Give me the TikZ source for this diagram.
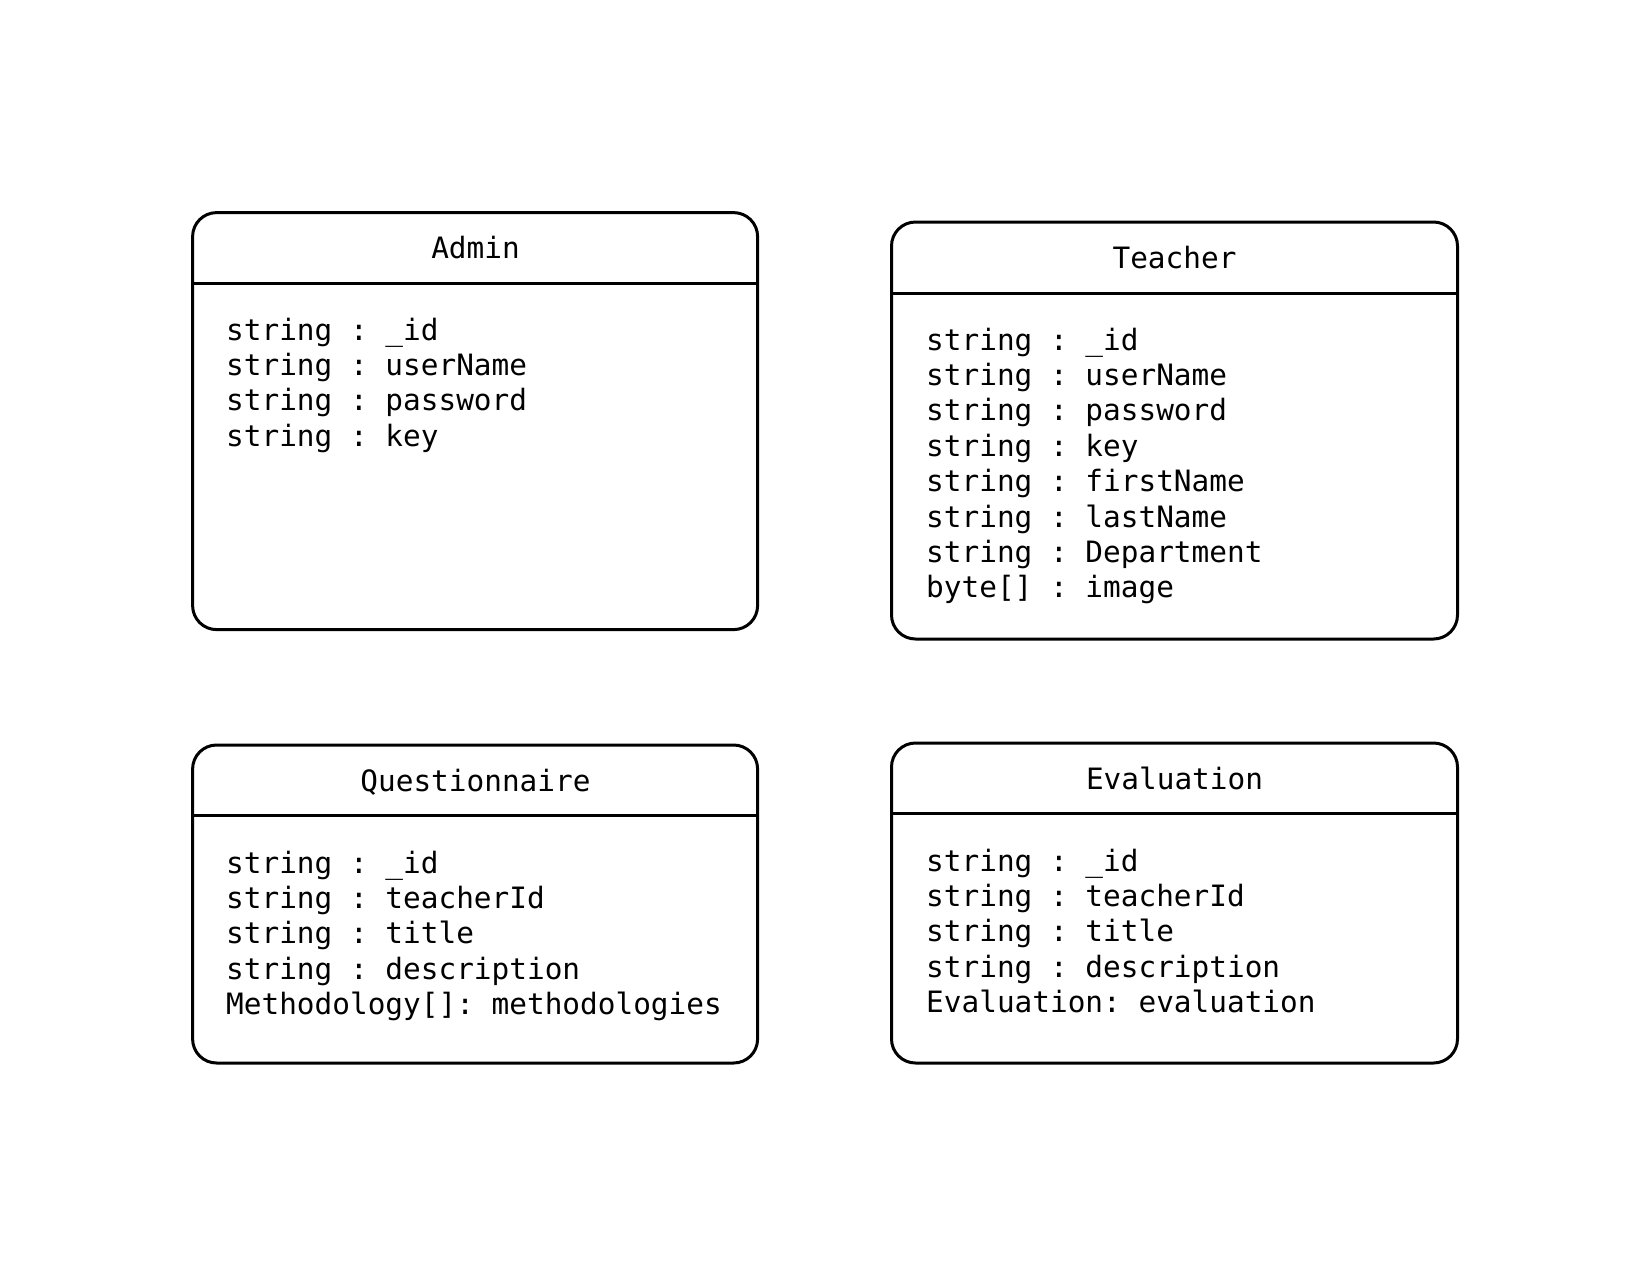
\documentclass[tikz,border=0pt]{standalone}
\usepackage{fontspec}
\setmonofont{DejaVu Sans Mono}
\begin{document}
\begin{tikzpicture}[x=1pt,y=-1pt,
  umlbox/.style={draw=black, line width=3pt, rounded corners=24pt, inner sep=0pt, outer sep=0pt, anchor=north west},
  sep/.style={line width=3pt},
  txt/.style={font=\ttfamily\fontsize{29.4}{35.4}\selectfont, inner sep=0pt, anchor=base west},
  ttl/.style={font=\ttfamily\fontsize{29.4}{35.4}\selectfont, inner sep=0pt, anchor=base}]
\useasboundingbox (0,0) rectangle (1650,1275);
% Admin
\node[umlbox, minimum width=565, minimum height=417] (admin) at (192.6,212.6) {};
\draw[sep] (admin.west |- 0,283.5) -- (admin.east |- 0,283.5);
\node[ttl] (adminT) at (475.5,258) {Admin};
\node[txt] (a1) at (226,340) {string : \_id};
\node[txt] (a2) at (226,375.4) {string : userName};
\node[txt] (a3) at (226,410.8) {string : password};
\node[txt] (a4) at (226,446.2) {string : key};
% Teacher
\node[umlbox, minimum width=566, minimum height=417] (teacher) at (891.5,222) {};
\draw[sep] (teacher.west |- 0,293.6) -- (teacher.east |- 0,293.6);
\node[ttl] (teacherT) at (1174.5,268) {Teacher};
\node[txt] (t1) at (926,350) {string : \_id};
\node[txt] (t2) at (926,385.4) {string : userName};
\node[txt] (t3) at (926,420.8) {string : password};
\node[txt] (t4) at (926,456.2) {string : key};
\node[txt] (t5) at (926,491.6) {string : firstName};
\node[txt] (t6) at (926,527) {string : lastName};
\node[txt] (t7) at (926,562.4) {string : Department};
\node[txt] (t8) at (926,597.8) {byte[] : image};
% Questionnaire
\node[umlbox, minimum width=565, minimum height=318] (quest) at (192.6,745) {};
\draw[sep] (quest.west |- 0,815.6) -- (quest.east |- 0,815.6);
\node[ttl] (questT) at (475.5,791) {Questionnaire};
\node[txt] (q1) at (226,873) {string : \_id};
\node[txt] (q2) at (226,908.4) {string : teacherId};
\node[txt] (q3) at (226,943.8) {string : title};
\node[txt] (q4) at (226,979.2) {string : description};
\node[txt] (q5) at (226,1014.6) {Methodology[]: methodologies};
% Evaluation
\node[umlbox, minimum width=566, minimum height=320] (eval) at (891.5,743) {};
\draw[sep] (eval.west |- 0,813.5) -- (eval.east |- 0,813.5);
\node[ttl] (evalT) at (1174.5,789) {Evaluation};
\node[txt] (e1) at (926,871) {string : \_id};
\node[txt] (e2) at (926,906.4) {string : teacherId};
\node[txt] (e3) at (926,941.8) {string : title};
\node[txt] (e4) at (926,977.2) {string : description};
\node[txt] (e5) at (926,1012.6) {Evaluation: evaluation};
\end{tikzpicture}
\end{document}
